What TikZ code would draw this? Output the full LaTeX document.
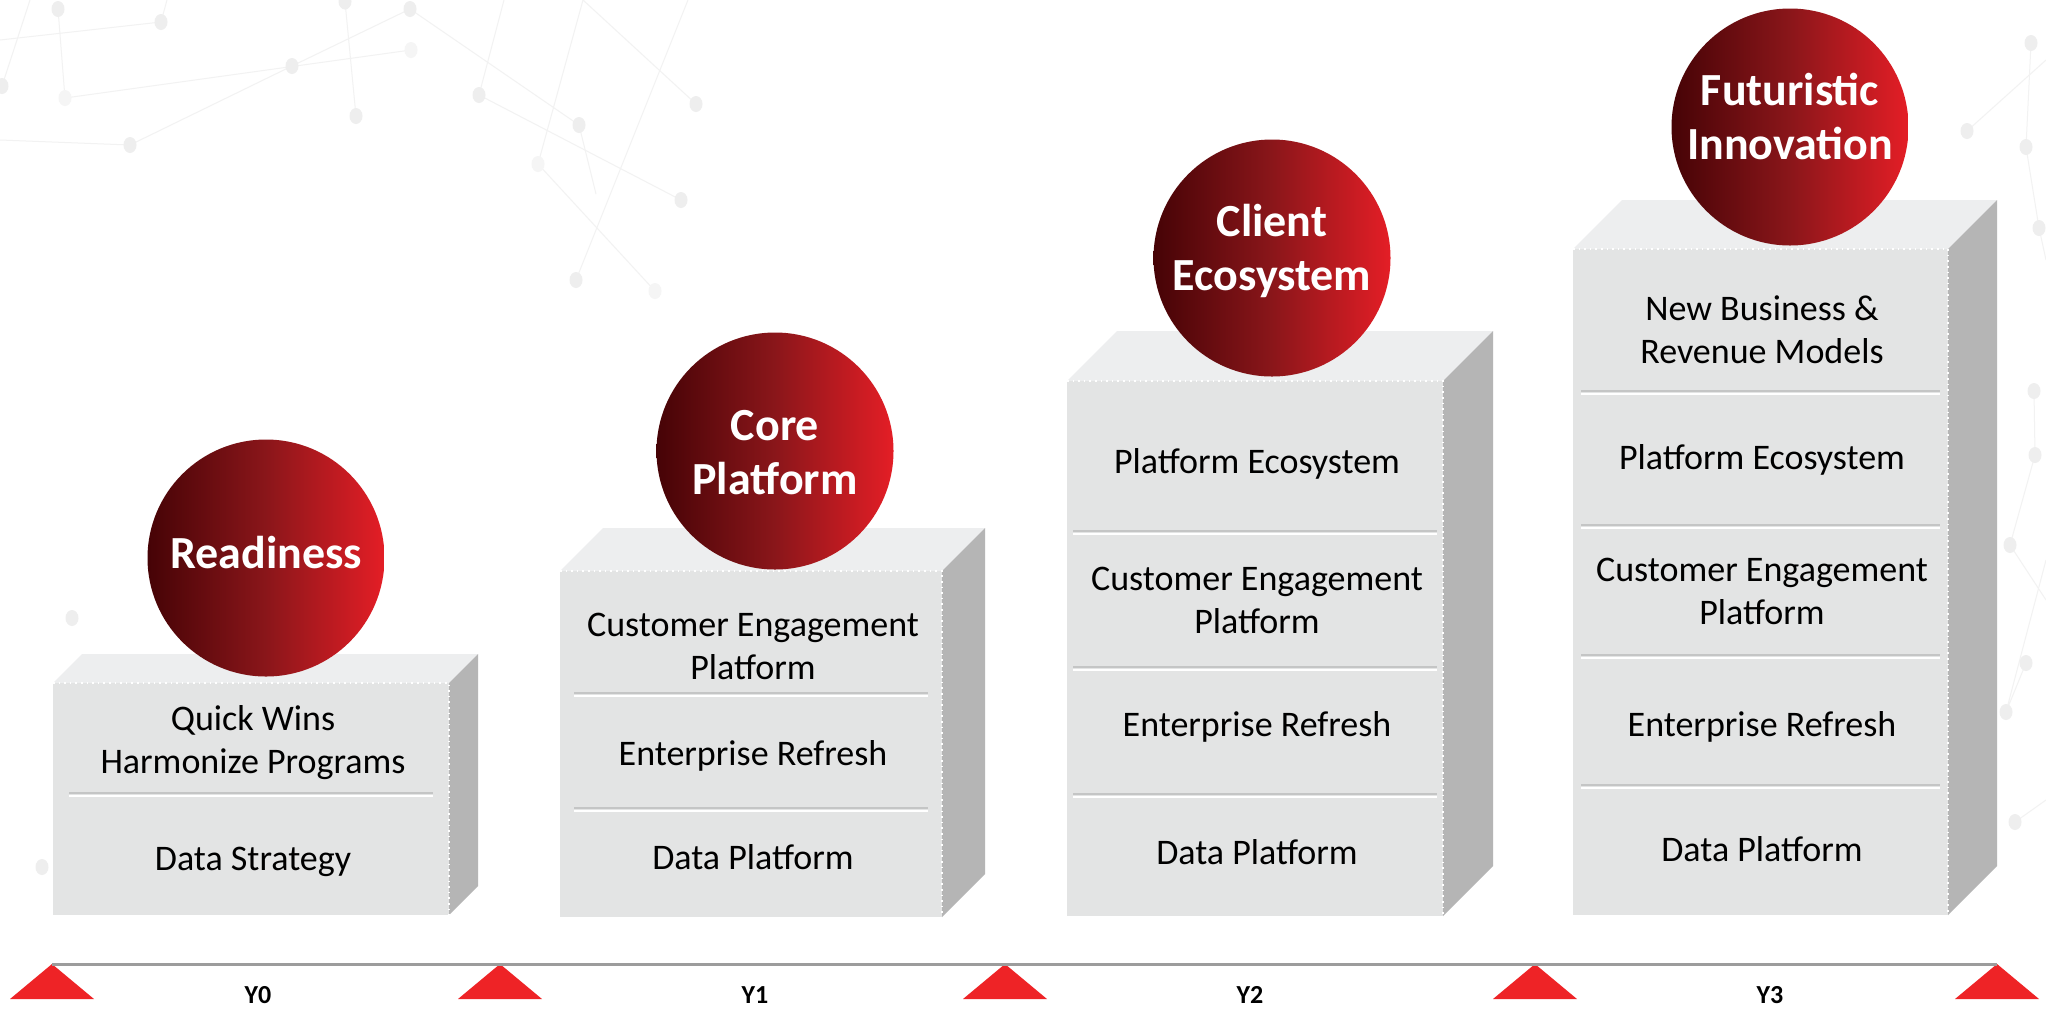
\documentclass[tikz,border=0pt]{standalone}
\usepackage{fontspec}
\setmainfont{Carlito}
\definecolor{frontc}{HTML}{E3E4E4}
\definecolor{topc}{HTML}{EDEEEF}
\definecolor{sidec}{HTML}{B5B5B5}
\definecolor{divc}{HTML}{C4C5C5}
\definecolor{balll}{HTML}{460306}
\definecolor{ballm}{HTML}{8A161A}
\definecolor{ballr}{HTML}{E41E26}
\definecolor{tric}{HTML}{EE2326}
\definecolor{linec}{HTML}{9C9C9C}
\definecolor{netc}{HTML}{EEEEEE}
\definecolor{netl}{HTML}{F2F2F2}
\newcommand\drawblock[5]{%
  \fill[topc] (#1,#2) -- (#1+#5,#2-#5) -- (#3+#5,#2-#5) -- (#3,#2) -- cycle;
  \fill[sidec] (#3,#2) -- (#3+#5,#2-#5) -- (#3+#5,#4-#5) -- (#3,#4) -- cycle;
  \fill[frontc] (#1,#2) rectangle (#3,#4);
  \draw[white,dotted,line width=0.8pt] (#1,#2) -- (#3,#2) -- (#3,#4);
}
\newcommand\divline[3]{%
  \draw[divc,line width=1.2pt] (#1,#3) -- (#2,#3);
  \draw[white,line width=1pt] (#1,#3+3) -- (#2,#3+3);
}
\newcommand\netdot[2]{\fill[netc] (#1,#2) ellipse [x radius=6.5, y radius=8];}
\begin{document}
\begin{tikzpicture}[x=0.5pt,y=-0.5pt,
  ball/.style={circle,minimum size=118.5pt,inner sep=0pt,
    left color=balll,right color=ballr,middle color=ballm},
  balltext/.style={text=white,font=\bfseries\fontsize{23}{27}\selectfont,align=center,inner sep=0pt},
  boxtext/.style={text=black,font=\fontsize{18}{21.5}\selectfont,align=center,inner sep=0pt},
  ylab/.style={text=black,font=\bfseries\fontsize{13}{13}\selectfont,inner sep=0pt},
  tri/.style={fill=tric},
  netline/.style={draw=netl,line width=0.5pt}]
\useasboundingbox (0,0) rectangle (2046,1008);
\fill[white] (0,0) rectangle (2046,1008);

% faint background network
\path[netline] (2,86) -- (30,0);
\path[netline] (0,40) -- (161,22) -- (167,0);
\path[netline] (58,9) -- (65,98) -- (411,50);
\path[netline] (0,140) -- (130,145) -- (292,66) -- (410,9) -- (579,125) -- (596,194);
\path[netline] (345,1.5) -- (356,116);
\path[netline] (504,0) -- (479,95) -- (681,200);
\path[netline] (583,0) -- (538,164) -- (655,291);
\path[netline] (583,0) -- (696,104);
\path[netline] (576,280) -- (688,0);
\path[netline] (1967,131) -- (2046,60);
\path[netline] (2031,43) -- (2026,147) -- (2039,228) -- (2046,260);
\path[netline] (2034,391) -- (2035,455) -- (2010,545) -- (2046,600);
\path[netline] (2026,663) -- (2006,712) -- (2046,560);
\path[netline] (2015,822) -- (2046,800);
\foreach \px/\py in {58/9,161/22,345/1.5,410/9,292/66,2/86,356/116,130/145,479/95,579/125,681/200,696/104,576/280,
  2031/43,1967/131,2026/147,2039/228,2034/391,2035/455,2010/545,2026/663,2006/712,2015/822,72/618,42/867}
  {\netdot{\px}{\py}}
\fill[netc!60] (411,50) ellipse [x radius=6.5, y radius=8];
\fill[netc!60] (65,98) ellipse [x radius=6.5, y radius=8];
\fill[netc!60] (538,164) ellipse [x radius=6.5, y radius=8];
\fill[netc!60] (655,291) ellipse [x radius=6.5, y radius=8];

% blocks
\drawblock{53}{683}{449}{915}{29}
\divline{69}{433}{793}
\drawblock{560}{571}{942}{917}{43}
\divline{574}{928}{693}
\divline{574}{928}{808}
\drawblock{1067}{381}{1443}{916}{50}
\divline{1073}{1437}{531}
\divline{1073}{1437}{667}
\divline{1073}{1437}{794}
\drawblock{1573}{249}{1948}{915}{49}
\divline{1581}{1940}{391}
\divline{1581}{1940}{525}
\divline{1581}{1940}{655}
\divline{1581}{1940}{785}

% block texts
\node[boxtext] (b1a) at (253,743) {Quick Wins\\Harmonize Programs};
\node[boxtext] (b1b) at (253,862) {Data Strategy};
\node[boxtext] (b2a) at (753,646) {Customer Engagement\\Platform};
\node[boxtext] (b2b) at (753,756) {Enterprise Refresh};
\node[boxtext] (b2c) at (753,857) {Data Platform};
\node[boxtext] (b3a) at (1257,464) {Platform Ecosystem};
\node[boxtext] (b3b) at (1257,600) {Customer Engagement\\Platform};
\node[boxtext] (b3c) at (1257,727) {Enterprise Refresh};
\node[boxtext] (b3d) at (1257,852) {Data Platform};
\node[boxtext] (b4a) at (1762,330) {New Business \&\\Revenue Models};
\node[boxtext] (b4b) at (1762,460) {Platform Ecosystem};
\node[boxtext] (b4c) at (1762,591) {Customer Engagement\\Platform};
\node[boxtext] (b4d) at (1762,727) {Enterprise Refresh};
\node[boxtext] (b4e) at (1762,849) {Data Platform};

% balls
\node[ball] (c1) at (266,558) {};
\node[ball] (c2) at (775,451) {};
\node[ball] (c3) at (1272,258) {};
\node[ball] (c4) at (1790,127) {};
\node[balltext] (c1t) at (266,553) {Readiness};
\node[balltext] (c2t) at (775,453) {Core\\Platform};
\node[balltext] (c3t) at (1272,251) {Client\\Ecosystem};
\node[balltext] (c4t) at (1790,116) {Futuristic\\Innovation};

% timeline
\coordinate (t0) at (52,964);
\coordinate (t1) at (500,964);
\coordinate (t2) at (1005,964);
\coordinate (t3) at (1535,964);
\coordinate (t4) at (1997,964);
\foreach \t in {t0,t1,t2,t3,t4}
  {\fill[tri] (\t) -- ++(-42,35) -- ++(84,0) -- cycle;}
\draw[linec,line width=1.5pt] (t0) -- (t4);
\node[ylab] (y0) at (258,995) {Y0};
\node[ylab] (y1) at (755,995) {Y1};
\node[ylab] (y2) at (1250,995) {Y2};
\node[ylab] (y3) at (1770,995) {Y3};
\end{tikzpicture}
\end{document}
